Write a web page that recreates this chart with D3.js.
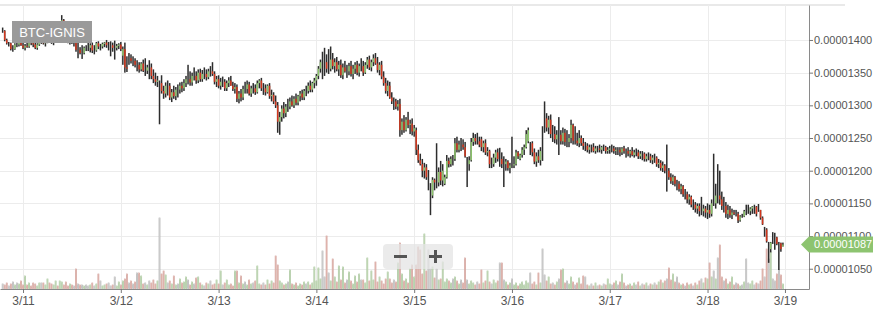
<!DOCTYPE html>
<html>
<head>
<meta charset="utf-8">
<script src="https://cdnjs.cloudflare.com/ajax/libs/d3/7.8.5/d3.min.js"></script>
<style>
  body { margin: 0; background: #fff; }
  svg { display: block; font-family: "Liberation Sans", Arial, Helvetica, sans-serif; }
</style>
</head>
<body>
<div id="chart"></div>
<script>
// BTC-IGNIS, 30 minute candles from 3/10 evening to 3/18 evening
// prices are in units of 0.00000001 BTC
var pair = "BTC-IGNIS";
var dayLabels = ["3/11", "3/12", "3/13", "3/14", "3/15", "3/16", "3/17", "3/18", "3/19"];
// candles per day, 3/10 .. 3/18
var dayCounts = [10, 48, 48, 48, 48, 48, 48, 48, 38];
var priceTicks = [1050, 1100, 1150, 1200, 1250, 1300, 1350, 1400];

var openP = [
  1414,1414,1400,1395,1395,1386,1386,1393,1393,1396,
  // 3/11
  1392,1388,1391,1390,1397,1395,1393,1388,1393,1398,1398,1395,
  1397,1402,1399,1396,1400,1405,1403,1410,1430,1408,1402,1398,
  1400,1396,1396,1385,1385,1380,1380,1388,1388,1388,1392,1384,
  1384,1395,1390,1390,1394,1396,1392,1392,1392,1388,1388,1391,
  // 3/12
  1393,1376,1386,1358,1372,1372,1368,1368,1362,1362,1355,1364,
  1353,1353,1358,1358,1345,1340,1336,1334,1334,1322,1318,1330,
  1330,1312,1320,1314,1324,1324,1330,1326,1334,1340,1340,1335,
  1345,1345,1338,1350,1340,1348,1348,1343,1352,1352,1348,1336,
  // 3/13
  1340,1330,1336,1336,1326,1334,1338,1330,1325,1328,1310,1318,
  1312,1325,1325,1332,1318,1326,1326,1320,1334,1338,1326,1326,
  1320,1330,1314,1316,1306,1300,1275,1282,1295,1288,1298,1298,
  1306,1300,1310,1304,1314,1318,1312,1322,1322,1330,1324,1334,
  // 3/14
  1338,1345,1356,1366,1366,1366,1356,1356,1370,1360,1366,1355,
  1362,1346,1358,1352,1352,1360,1348,1356,1362,1350,1360,1360,
  1350,1362,1370,1358,1366,1372,1364,1354,1362,1344,1334,1322,
  1330,1312,1306,1306,1298,1302,1262,1275,1262,1278,1270,1272,
  // 3/15
  1260,1262,1232,1216,1210,1200,1205,1185,1178,1162,1186,1182,
  1182,1198,1185,1180,1190,1215,1210,1218,1218,1242,1232,1240,
  1240,1236,1210,1210,1216,1244,1250,1245,1245,1248,1236,1242,
  1228,1230,1210,1210,1220,1228,1218,1218,1210,1210,1214,1204,
  // 3/16
  1208,1208,1210,1228,1218,1224,1232,1236,1245,1242,1242,1228,
  1214,1222,1216,1230,1280,1280,1266,1278,1256,1256,1248,1255,
  1255,1245,1258,1244,1244,1250,1270,1246,1246,1242,1250,1242,
  1238,1238,1232,1236,1236,1230,1234,1234,1232,1236,1236,1230,
  // 3/17
  1232,1234,1234,1230,1232,1232,1228,1234,1230,1230,1226,1230,
  1224,1228,1228,1222,1226,1226,1218,1222,1222,1216,1220,1220,
  1210,1212,1204,1208,1200,1200,1190,1184,1190,1180,1180,1172,
  1176,1164,1164,1156,1160,1148,1148,1142,1146,1138,1138,1142,
  // 3/18
  1136,1140,1134,1150,1150,1162,1162,1156,1146,1146,1134,1140,
  1132,1136,1134,1134,1124,1130,1130,1138,1138,1138,1142,1145,
  1145,1142,1140,1128,1110,1110,1090,1080,1100,1100,1098,1088,
  1089,1084
];

var highP = [
  1419,1415,1402,1397,1396,1392,1395,1396,1398,1399,
  1398,1394,1396,1400,1402,1399,1398,1395,1401,1404,1403,1400,
  1405,1406,1404,1402,1408,1410,1412,1438,1432,1412,1406,1404,
  1405,1402,1398,1396,1389,1392,1390,1392,1398,1395,1396,1392,
  1397,1398,1394,1396,1397,1400,1397,1398,1396,1399,1394,1395,
  1397,1390,1396,1375,1380,1378,1375,1372,1369,1366,1366,1370,
  1372,1362,1369,1364,1355,1350,1345,1338,1346,1330,1335,1338,
  1334,1325,1330,1328,1332,1335,1336,1340,1345,1362,1352,1350,
  1358,1352,1355,1356,1354,1358,1355,1356,1360,1366,1352,1345,
  1346,1342,1344,1340,1338,1343,1345,1336,1334,1332,1322,1325,
  1330,1336,1338,1336,1330,1334,1332,1338,1340,1342,1334,1332,
  1332,1334,1324,1320,1315,1305,1290,1300,1305,1302,1310,1312,
  1315,1314,1318,1316,1322,1324,1325,1330,1335,1338,1336,1342,
  1348,1360,1370,1382,1388,1378,1386,1390,1380,1372,1374,1368,
  1370,1364,1368,1362,1365,1368,1362,1366,1368,1364,1372,1368,
  1366,1374,1376,1370,1378,1380,1374,1366,1368,1352,1342,1338,
  1336,1320,1312,1310,1308,1310,1280,1285,1282,1290,1278,1280,
  1270,1266,1240,1226,1218,1212,1210,1201,1181,1190,1188,1242,
  1205,1215,1210,1194,1224,1220,1222,1224,1250,1252,1246,1250,
  1248,1244,1221,1222,1250,1258,1256,1258,1252,1252,1246,1248,
  1236,1232,1220,1226,1232,1234,1235,1228,1222,1218,1216,1212,
  1252,1222,1232,1230,1226,1236,1240,1262,1266,1244,1245,1234,
  1228,1232,1236,1268,1306,1288,1284,1286,1270,1268,1262,1282,
  1262,1266,1264,1262,1256,1278,1272,1268,1258,1262,1254,1250,
  1244,1242,1240,1240,1242,1238,1238,1240,1238,1240,1238,1236,
  1238,1240,1238,1236,1236,1236,1236,1238,1234,1236,1232,1236,
  1232,1234,1232,1230,1230,1228,1226,1228,1226,1224,1226,1222,
  1218,1216,1214,1210,1240,1204,1196,1194,1192,1186,1184,1180,
  1178,1172,1168,1164,1162,1156,1152,1150,1150,1160,1148,1146,
  1150,1148,1156,1226,1180,1210,1200,1168,1160,1152,1148,1146,
  1142,1140,1140,1137,1132,1134,1140,1148,1148,1144,1146,1148,
  1146,1149,1140,1130,1114,1112,1091,1091,1106,1105,1099,1091,
  1090,1090
];

var lowP = [
  1411,1398,1393,1390,1384,1382,1385,1389,1390,1391,
  1386,1384,1388,1388,1392,1389,1386,1385,1391,1394,1393,1390,
  1395,1396,1394,1392,1397,1399,1400,1406,1405,1398,1395,1393,
  1394,1390,1382,1372,1378,1371,1378,1383,1383,1381,1380,1378,
  1382,1386,1384,1387,1389,1388,1384,1375,1382,1370,1384,1386,
  1383,1362,1350,1351,1362,1364,1360,1358,1352,1350,1352,1351,
  1345,1348,1340,1340,1334,1330,1328,1271,1318,1310,1312,1315,
  1308,1305,1310,1308,1312,1318,1320,1322,1328,1332,1330,1330,
  1338,1333,1334,1336,1336,1340,1338,1340,1344,1345,1332,1328,
  1326,1324,1328,1322,1322,1328,1330,1322,1318,1305,1303,1306,
  1308,1318,1318,1315,1313,1318,1316,1318,1326,1322,1316,1315,
  1318,1310,1306,1302,1296,1258,1255,1275,1280,1282,1290,1294,
  1298,1296,1300,1300,1306,1308,1308,1314,1318,1320,1320,1326,
  1330,1340,1350,1340,1345,1350,1348,1352,1355,1350,1352,1345,
  1342,1340,1350,1342,1346,1344,1340,1348,1346,1344,1352,1345,
  1348,1356,1354,1352,1360,1362,1350,1346,1340,1330,1318,1314,
  1310,1302,1293,1294,1292,1252,1255,1258,1260,1265,1256,1254,
  1252,1224,1212,1208,1190,1188,1186,1170,1132,1158,1170,1173,
  1176,1178,1176,1178,1188,1205,1206,1208,1215,1228,1228,1230,
  1232,1220,1175,1200,1214,1238,1240,1240,1236,1230,1228,1224,
  1222,1204,1204,1206,1212,1214,1206,1204,1175,1200,1200,1196,
  1204,1204,1208,1218,1216,1220,1224,1234,1242,1224,1222,1210,
  1206,1212,1208,1215,1258,1260,1256,1250,1244,1242,1240,1224,
  1240,1240,1238,1236,1236,1242,1240,1240,1238,1236,1238,1232,
  1230,1228,1226,1228,1228,1226,1228,1228,1226,1230,1226,1226,
  1226,1228,1226,1224,1224,1222,1224,1226,1220,1222,1220,1222,
  1220,1222,1218,1218,1216,1214,1214,1216,1212,1210,1212,1206,
  1204,1200,1198,1196,1168,1186,1180,1178,1176,1170,1168,1164,
  1160,1156,1150,1148,1144,1140,1136,1134,1130,1132,1130,1128,
  1126,1128,1130,1146,1142,1150,1148,1140,1136,1128,1126,1128,
  1126,1132,1130,1120,1122,1128,1129,1132,1134,1132,1134,1134,
  1130,1137,1125,1117,1099,1090,1059,1075,1088,1079,1086,1048,
  1076,1084
];

var closeP = [
  1414,1400,1395,1395,1386,1386,1393,1393,1396,1392,
  1388,1391,1390,1397,1395,1393,1388,1393,1398,1398,1395,1397,
  1402,1399,1396,1400,1405,1403,1410,1430,1408,1402,1398,1400,
  1396,1396,1385,1385,1380,1380,1388,1388,1388,1392,1384,1384,
  1395,1390,1390,1394,1396,1392,1392,1392,1388,1388,1391,1393,
  1386,1386,1358,1356,1372,1368,1368,1362,1362,1355,1364,1353,
  1353,1358,1358,1345,1340,1336,1338,1334,1322,1318,1330,1330,
  1312,1320,1314,1324,1324,1330,1326,1334,1340,1340,1335,1345,
  1345,1338,1350,1340,1348,1348,1343,1352,1352,1348,1336,1340,
  1330,1336,1336,1326,1334,1338,1330,1325,1328,1310,1318,1312,
  1325,1325,1332,1318,1326,1326,1320,1334,1338,1326,1326,1320,
  1330,1314,1316,1306,1300,1275,1282,1295,1288,1298,1298,1306,
  1300,1310,1304,1314,1318,1312,1322,1322,1330,1324,1334,1338,
  1345,1356,1366,1366,1366,1356,1356,1370,1360,1366,1355,1362,
  1346,1358,1352,1352,1360,1348,1356,1362,1350,1360,1360,1350,
  1362,1370,1358,1366,1372,1364,1354,1362,1344,1334,1322,1330,
  1312,1306,1306,1298,1302,1262,1275,1262,1278,1270,1272,1260,
  1265,1232,1216,1210,1200,1205,1190,1185,1178,1186,1182,1182,
  1198,1185,1200,1190,1215,1210,1218,1218,1242,1232,1240,1240,
  1236,1222,1210,1216,1244,1250,1245,1245,1240,1236,1242,1228,
  1230,1210,1210,1220,1228,1218,1218,1210,1210,1214,1204,1208,
  1208,1210,1228,1222,1224,1232,1236,1256,1262,1242,1228,1214,
  1222,1216,1230,1230,1280,1266,1278,1256,1256,1248,1255,1255,
  1245,1258,1244,1244,1250,1270,1246,1246,1242,1250,1242,1238,
  1238,1232,1236,1236,1230,1234,1234,1232,1236,1236,1230,1232,
  1234,1234,1230,1232,1232,1228,1234,1230,1230,1226,1230,1224,
  1228,1228,1222,1226,1226,1218,1222,1222,1216,1220,1220,1210,
  1212,1204,1208,1200,1200,1190,1184,1190,1180,1180,1172,1176,
  1164,1164,1156,1160,1148,1148,1142,1146,1138,1138,1142,1136,
  1140,1134,1150,1150,1162,1162,1156,1146,1146,1134,1140,1132,
  1136,1134,1134,1124,1130,1130,1138,1138,1138,1142,1145,1145,
  1134,1142,1128,1118,1110,1092,1090,1090,1100,1100,1088,1088,
  1080,1087
];

// volume in BTC
var volume = [
  0.5,0.4,0.6,0.3,0.5,0.7,0.4,0.6,0.5,0.8,
  0.4,1.3,0.4,0.6,0.3,0.6,0.5,0.3,0.6,0.6,0.6,0.4,
  1.0,0.6,0.5,0.4,0.8,0.3,0.8,0.7,0.4,0.7,0.3,0.5,
  0.4,0.3,2.0,0.5,0.4,0.4,0.3,0.4,0.3,0.4,0.6,0.3,
  0.5,1.5,0.8,0.3,0.4,0.5,0.6,0.3,0.4,1.2,0.3,0.7,
  0.4,0.8,1.0,1.5,0.6,0.8,0.5,0.7,1.6,1.6,1.3,0.5,
  0.6,0.4,0.8,0.6,0.9,0.5,0.8,7.1,1.5,1.8,1.4,0.6,
  0.8,0.5,1.3,0.4,0.5,1.0,0.6,0.7,1.2,0.9,0.4,0.7,
  0.5,1.1,1.2,0.6,0.4,0.3,0.6,0.5,0.8,0.4,0.5,0.9,
  0.5,1.8,0.4,0.6,0.9,0.4,0.5,0.3,1.8,1.8,0.6,1.3,
  0.5,0.7,0.4,0.9,0.5,0.6,0.8,2.3,0.5,0.4,0.6,0.4,
  0.9,0.5,0.8,0.6,3.3,2.4,0.8,0.6,0.4,0.5,0.7,1.9,
  0.5,0.4,0.6,0.3,0.5,0.4,0.7,0.5,0.7,0.4,0.6,2.2,
  0.8,2.1,1.0,3.8,1.2,5.3,1.6,0.8,3.0,1.2,0.7,2.3,
  0.9,2.2,0.6,0.9,1.7,0.8,0.5,1.3,0.7,1.5,0.9,0.9,
  0.6,3.1,0.8,1.8,0.9,2.7,0.7,1.2,0.8,0.5,1.0,1.7,
  1.0,0.6,0.9,0.7,2.6,4.6,1.5,0.8,1.0,0.6,2.0,2.4,
  1.2,2.4,4.2,3.9,1.5,5.5,1.8,3.9,2.0,2.2,1.1,2.0,
  0.9,1.0,2.7,0.7,1.0,0.8,0.6,1.0,1.2,0.8,0.5,0.9,
  0.6,3.1,0.9,0.5,0.8,0.6,0.4,0.7,0.5,1.9,0.6,0.8,
  1.8,0.7,0.5,0.9,0.6,0.8,2.6,2.6,0.9,0.7,0.4,0.6,
  1.0,0.4,0.6,0.3,0.5,0.7,0.4,0.8,0.6,1.6,0.5,0.7,
  0.4,1.6,0.6,4.0,1.4,0.8,1.2,0.5,0.6,0.4,0.7,1.0,
  1.9,2.0,0.6,0.8,0.5,1.2,0.7,0.4,0.6,1.1,0.5,1.3,
  1.2,0.4,0.3,0.5,0.3,0.6,0.3,0.4,0.3,0.5,0.4,1.0,
  0.5,0.4,0.6,0.8,0.4,0.7,1.5,0.6,0.3,0.4,0.5,0.3,
  0.6,0.4,0.7,0.3,0.5,0.4,0.6,0.3,0.5,0.4,0.6,0.4,
  0.7,0.9,0.6,0.8,1.0,2.1,0.9,1.5,0.7,1.2,0.6,0.4,
  0.5,0.3,0.6,0.4,0.5,0.3,0.6,0.4,0.8,1.0,0.6,1.1,
  1.0,2.6,1.2,1.8,1.0,3.1,4.4,1.2,0.8,1.0,0.5,0.7,
  1.2,0.4,0.6,0.5,0.3,0.4,0.7,3.0,0.6,0.5,0.8,0.4,
  0.6,0.5,0.8,2.0,1.2,4.0,3.0,3.7,1.0,0.8,1.5,1.9,
  1.4,0.5
];

var width = 876, height = 309;
var plotLeft = 0, plotRight = 809, plotTop = 5, plotBottom = 289;
var candleW = 1.5;

var svg = d3.select("#chart").append("svg")
  .attr("width", width)
  .attr("height", height);

var candles = closeP.map(function (c, i) {
  var o = openP[i];
  return {
    i: i, o: o, c: c,
    h: Math.max(highP[i], o, c),
    l: Math.min(lowP[i], o, c),
    v: volume[i],
    dir: c > o ? 1 : (c < o ? -1 : 0)
  };
});

var x = d3.scaleLinear().domain([-1.3, 395.8]).range([plotLeft, plotRight]);
var y = d3.scaleLinear().domain([1019, 1453.5]).range([plotBottom, plotTop]);
var yVol = d3.scaleLinear().domain([0, 8]).range([plotBottom, plotBottom - 80]);

var dayTicks = Array.from(d3.cumsum(dayCounts));   // index where each new day starts

// top border
svg.append("line")
  .attr("x1", 0).attr("x2", 845)
  .attr("y1", 5).attr("y2", 5)
  .attr("stroke", "#e2e2e2")
  .attr("stroke-width", 1.5);

// grid
var grid = svg.append("g").attr("stroke", "#ececec").attr("shape-rendering", "crispEdges");
grid.selectAll(".h").data(priceTicks).join("line")
  .attr("x1", plotLeft).attr("x2", plotRight)
  .attr("y1", function (d) { return Math.round(y(d)) + 0.5; })
  .attr("y2", function (d) { return Math.round(y(d)) + 0.5; });
grid.selectAll(".v").data(dayTicks).join("line")
  .attr("y1", plotTop).attr("y2", plotBottom)
  .attr("x1", function (d) { return Math.round(x(d)) + 0.5; })
  .attr("x2", function (d) { return Math.round(x(d)) + 0.5; });

// volume bars
var volFill = { "1": "#e3f1da", "-1": "#f5cec8", "0": "#f3f3f3" };
var volStroke = { "1": "#a3c296", "-1": "#cf9d96", "0": "#adadad" };
svg.append("g").selectAll("rect").data(candles).join("rect")
  .attr("x", function (d) { return x(d.i) - 0.5; })
  .attr("width", 1)
  .attr("y", function (d) { return yVol(d.v); })
  .attr("height", function (d) { return plotBottom - yVol(d.v); })
  .attr("fill", function (d) { return volFill[d.dir]; })
  .attr("stroke", function (d) { return volStroke[d.dir]; })
  .attr("stroke-width", 0.7);

// candles: black wick, coloured body
var cg = svg.append("g");
cg.selectAll(".wick").data(candles).join("rect")
  .attr("x", function (d) { return x(d.i) - candleW / 2; })
  .attr("width", candleW)
  .attr("y", function (d) { return y(d.h); })
  .attr("height", function (d) { return Math.max(1, y(d.l) - y(d.h)); })
  .attr("fill", "#2d2d2d");
cg.selectAll(".body").data(candles.filter(function (d) { return d.dir !== 0; })).join("rect")
  .attr("x", function (d) { return x(d.i) - candleW / 2; })
  .attr("width", candleW)
  .attr("y", function (d) { return y(Math.max(d.o, d.c)); })
  .attr("height", function (d) { return Math.max(1, Math.abs(y(d.o) - y(d.c))); })
  .attr("fill", function (d) { return d.dir > 0 ? "#8cc46c" : "#d2361c"; });

// axes
var xAxis = svg.append("g")
  .attr("transform", "translate(0," + plotBottom + ")")
  .call(d3.axisBottom(x)
    .tickValues(dayTicks)
    .tickFormat(function (d, i) { return dayLabels[i]; })
    .tickSize(4)
    .tickSizeOuter(0));
xAxis.select(".domain").attr("stroke", "#8a8a8a");
xAxis.selectAll(".tick line").attr("stroke", "#777");
xAxis.selectAll("text").attr("fill", "#555").attr("font-size", 12)
  .attr("font-family", "Liberation Sans, Arial, sans-serif");

var yAxis = svg.append("g")
  .attr("transform", "translate(" + plotRight + ",0)")
  .call(d3.axisRight(y)
    .tickValues(priceTicks)
    .tickFormat(function (d) { return (d * 1e-8).toFixed(8); })
    .tickSize(4)
    .tickPadding(1)
    .tickSizeOuter(0));
yAxis.select(".domain").attr("stroke", "#8a8a8a");
yAxis.selectAll(".tick line").attr("stroke", "#777");
yAxis.selectAll("text").attr("fill", "#555").attr("font-size", 11)
  .attr("font-family", "Liberation Sans, Arial, sans-serif");

// last price tag
var lastClose = closeP[closeP.length - 1];
var ly = y(lastClose);
svg.append("path")
  .attr("d", "M801," + ly + "L809," + (ly - 8) + "L873," + (ly - 8) +
             "L873," + (ly + 8) + "L809," + (ly + 8) + "Z")
  .attr("fill", "#8dc470");
svg.append("text")
  .attr("x", 814).attr("y", ly).attr("dy", "0.35em")
  .attr("fill", "#fff").attr("font-size", 11)
  .text((lastClose * 1e-8).toFixed(8));

// pair label
svg.append("rect")
  .attr("x", 12).attr("y", 21).attr("width", 80).attr("height", 22)
  .attr("fill", "#9a9a9a");
svg.append("text")
  .attr("x", 52).attr("y", 32).attr("dy", "0.35em")
  .attr("text-anchor", "middle")
  .attr("fill", "#fff").attr("font-size", 13)
  .text(pair);

// zoom buttons
var zb = svg.append("g");
zb.append("rect")
  .attr("x", 383).attr("y", 244).attr("width", 70).attr("height", 25).attr("rx", 4)
  .attr("fill", "#e4e4e4").attr("fill-opacity", 0.75);
zb.append("path")
  .attr("d", "M394,256.5H407M429,256.5H442M435.5,250V263")
  .attr("stroke", "#555").attr("stroke-width", 3);
</script>
</body>
</html>
